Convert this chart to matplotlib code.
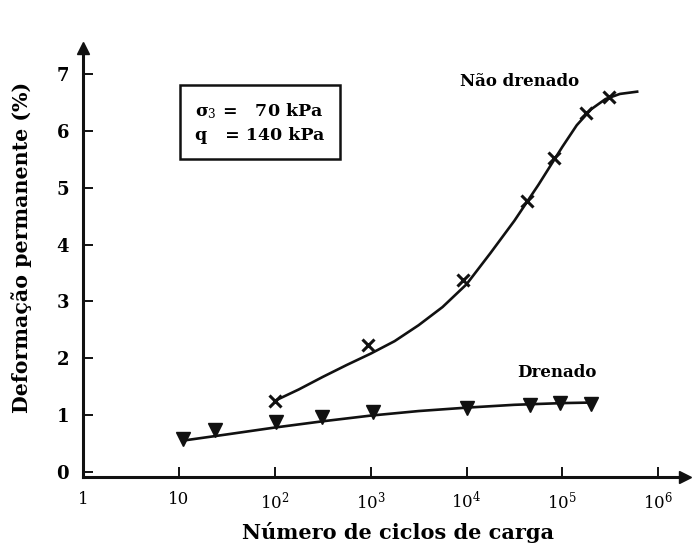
import matplotlib
matplotlib.use('Agg')
import matplotlib.pyplot as plt
from matplotlib.patches import Rectangle

plt.rcParams['font.family'] = ['DejaVu Serif']
plt.rcParams['mathtext.fontset'] = 'dejavuserif'

# data (N cycles, permanent strain %)
ciclos_nd = [100, 930, 9100, 42600, 81000, 178000, 309000]
deform_nd = [1.25, 2.24, 3.37, 4.76, 5.52, 6.32, 6.60]

ciclos_dr = [11, 24, 102, 310, 1050, 10000, 46000, 95000, 200000]
deform_dr = [0.58, 0.74, 0.88, 0.97, 1.06, 1.13, 1.18, 1.21, 1.20]

# hand-drawn trend curves as seen in the figure
curva_nd_x = [100, 178, 316, 562, 1000, 1778, 3162, 5623, 10000, 17780,
              31620, 56230, 100000, 141300, 199500, 281800, 398100, 602600]
curva_nd_y = [1.25, 1.45, 1.67, 1.88, 2.08, 2.30, 2.58, 2.90, 3.30, 3.85,
              4.42, 5.05, 5.72, 6.10, 6.38, 6.56, 6.65, 6.69]
curva_dr_x = [11, 32, 100, 316, 1000, 3162, 10000, 31620, 100000, 204000]
curva_dr_y = [0.55, 0.66, 0.78, 0.89, 0.99, 1.07, 1.13, 1.18, 1.21, 1.22]

xticks = [1, 10, 100, 1000, 10000, 100000, 1000000]
xticklabels = ['1', '10', '$10^2$', '$10^3$', '$10^4$', '$10^5$', '$10^6$']
yticks = [0, 1, 2, 3, 4, 5, 6, 7]

cor = '#111111'

fig = plt.figure(figsize=(6.92, 5.48), dpi=100)
ax = fig.add_axes([0.12, 0.1296, 0.87, 0.783])
ax.set_xscale('log')
ax.set_xlim(1, 10 ** 6.28)
ax.set_ylim(-0.09, 7.46)

ax.plot(curva_nd_x, curva_nd_y, color=cor, lw=1.9)
ax.plot(curva_dr_x, curva_dr_y, color=cor, lw=1.9)
ax.plot(ciclos_nd, deform_nd, 'x', color=cor, ms=9, mew=2.2, ls='none')
ax.plot(ciclos_dr, deform_dr, 'v', color=cor, ms=10, ls='none')

for s in ['top', 'right']:
    ax.spines[s].set_visible(False)
for s in ['left', 'bottom']:
    ax.spines[s].set_linewidth(2.2)
    ax.spines[s].set_color(cor)

# arrow heads
ax.plot(1, 0, '>', color=cor, ms=9, transform=ax.transAxes, clip_on=False)
ax.plot(0, 1, '^', color=cor, ms=9, transform=ax.transAxes, clip_on=False)

ax.set_xticks(xticks)
ax.set_xticklabels(xticklabels)
ax.minorticks_off()
ax.set_yticks(yticks)
ax.tick_params(axis='both', direction='in', length=7, width=1.4, color=cor)
ax.tick_params(axis='y', pad=10, labelsize=13)
ax.tick_params(axis='x', pad=10, labelsize=12)
for t in ax.get_yticklabels():
    t.set_fontweight('bold')

ax.set_xlabel('Número de ciclos de carga', fontsize=15, fontweight='bold')
ax.xaxis.set_label_coords(0.523, -0.105)
ax.set_ylabel('Deformação permanente (%)', fontsize=14.8, fontweight='bold')
ax.yaxis.set_label_coords(-0.085, 0.534)

ax.text(8500, 6.87, 'Não drenado', fontsize=12, fontweight='bold', va='center')
ax.text(34000, 1.74, 'Drenado', fontsize=12, fontweight='bold', va='center')

# parameter box
ax.add_patch(Rectangle((0.161, 0.742), 0.266, 0.172, transform=ax.transAxes,
                       fill=False, lw=1.8, edgecolor=cor))
ax.text(0.186, 0.853, 'σ$_3$ =   70 kPa', transform=ax.transAxes,
        fontsize=12.5, fontweight='bold', va='center')
ax.text(0.186, 0.795, 'q   = 140 kPa', transform=ax.transAxes,
        fontsize=12.5, fontweight='bold', va='center')

fig.savefig('out.png', dpi=100)
